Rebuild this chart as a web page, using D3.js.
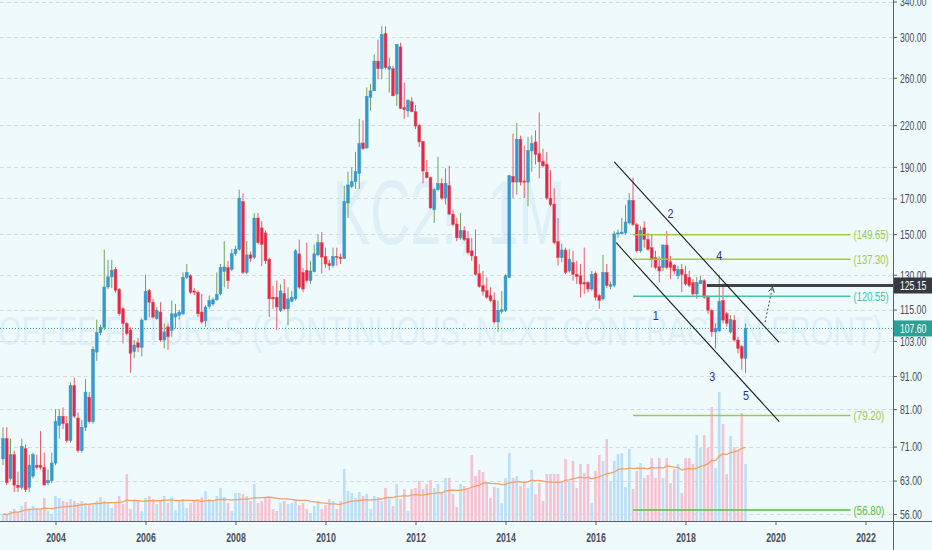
<!DOCTYPE html>
<html>
<head>
<meta charset="utf-8">
<script src="https://cdn.jsdelivr.net/npm/d3@7"></script>
<style>
  body { margin: 0; background: #eefafc; }
  svg { display: block; }
</style>
</head>
<body>
<svg id="chart"></svg>
<script>
// ---------------------- data (monthly, Nov 2002 .. May 2019) ----------------------
const firstMonth = -14; // months from Jan 2004 -> Nov 2002

const opens = [
  68, 73,
  63.5, 69, 62, 61.5, 70.5, 61.5, 64, 66.5, 66.5, 66, 62.5, 63,
  67, 76.5, 79, 77, 72.5, 88, 78.5, 70, 76, 84.5, 77.5, 99,
  106, 108, 124.5, 129, 132.5, 123.5, 115.3, 109.5, 107, 99.2, 102.3, 100.7,
  110.9, 123, 118, 111.4, 114, 103.3, 108.2, 106.9, 112, 112.7, 113.3, 128.8,
  129.5, 122.8, 122.2, 114, 110.5, 116.3, 117.3, 119, 121.5, 131.5, 133.3, 132.5,
  140, 142.2, 168.2, 131, 139.4, 138.1, 158.7, 153.3, 150.6, 137.3, 120.1, 120.1,
  114.7, 121.7, 115.3, 118.4, 119.4, 139.9, 131, 132, 127.3, 131.4, 139.4, 145.5,
  138.6, 135.3, 134.2, 138.6, 138.3, 137.7, 167.3, 177.3, 180.4, 185.7, 206.7, 203.1,
  242.7, 248.3, 275.7, 268.4, 303.7, 267.8, 268.4, 245.5, 289.8, 234.1, 231.3, 239,
  230.7, 219.8, 207.8, 186.4, 182.9, 163.4, 175.3, 179.3, 170.2, 177.8, 160.9, 155.4,
  148, 151.9, 147.6, 141.4, 138.6, 130.5, 125.1, 122.9, 120.8, 118.9, 110.1, 114.2,
  114.7, 128.8, 183.8, 180.1, 209.3, 180.8, 180.1, 201, 207.4, 199.1, 193.8, 191.6,
  170.2, 166.7, 146, 138.1, 141.8, 131.7, 135.7, 130.2, 129.5, 126.5, 126.5, 123.6,
  130.5, 120.8, 119.4, 131, 124.7, 125.1, 150.2, 150.2, 150.6, 156, 168.9, 155,
  141.4, 153.3, 147.1, 143, 138.1, 133.8, 133.3, 144.3, 136, 134.4, 129.5, 132.5,
  130.2, 128.8, 126.5, 121.5, 126, 127.3, 120.1, 114.7, 106.3, 106.7, 118.7, 113.3,
  106.3, 110.8, 103.3, 100.9, 96.9
];
const highs = [
  76, 76,
  73, 70, 65, 73, 71.5, 69, 69.5, 69, 75, 69.5, 65.5, 69.5,
  81, 81, 81.5, 79, 89, 90.5, 80, 78, 90, 86, 101, 111,
  109, 142, 137, 137, 133.5, 124, 116, 110, 108, 103.3, 104, 111.4,
  130, 123.6, 119.4, 116, 118, 109.5, 109.5, 118.7, 117.3, 115, 131, 135,
  130.2, 124, 123, 121.5, 116.7, 120.8, 120, 131, 135, 146.3, 136.5, 142.2,
  144, 175.3, 173.2, 146.3, 141, 161.5, 161.5, 157, 152, 138, 125, 127.3,
  125.7, 128, 124.4, 122.8, 142.2, 147.1, 133, 145.5, 136.5, 144.6, 149.7, 151,
  143, 137, 143, 143, 140, 177.8, 186.8, 189.6, 200.3, 225, 223.7, 251.3,
  254.2, 282.2, 297.3, 311.6, 311.6, 279, 271, 293, 294, 255.6, 241.2, 242.7,
  236, 221, 208, 194.6, 183.5, 176.2, 196.8, 182.5, 189, 190.7, 163.4, 158.7,
  161.5, 154.2, 151.5, 148, 152.4, 134.9, 131.7, 128.8, 124.4, 122.2, 118.7, 122.8,
  130.2, 184.5, 213.5, 221.8, 212, 204.8, 211, 212.2, 216, 230.2, 202.6, 200.3,
  187.9, 176.2, 158.7, 145, 143, 142.2, 141.4, 136.5, 135, 143, 127, 131.7,
  131.5, 121.5, 139.4, 135, 127, 151.5, 152.4, 158.7, 166.3, 173.2, 183, 156,
  154.2, 156.9, 150.6, 149.9, 141.4, 138.6, 144.6, 151.5, 138.9, 135, 134.1, 135,
  134.1, 131.7, 128, 128.8, 129.5, 128, 120.8, 115.3, 109.5, 130, 126, 114,
  112.7, 112.7, 104.5, 101.5, 109.5
];
const lows = [
  66.5, 62,
  63, 60.5, 60.5, 61, 60.5, 60.5, 63.5, 65.5, 65.5, 62, 62, 62.5,
  66.5, 73, 75.5, 72, 72, 78.5, 69.5, 69.5, 75, 77, 77, 96,
  105, 107, 123.5, 124, 122, 112.5, 102, 105, 92, 97, 99, 97.5,
  110.7, 112, 111.4, 111, 102.7, 100.3, 99.8, 104.5, 107.6, 111, 112.7, 128,
  121.5, 121, 112, 109.5, 108.2, 115.3, 116.5, 118.7, 120.8, 124.4, 123.6, 131.7,
  139, 141.4, 130.2, 130.2, 136, 137.3, 144.6, 134.1, 135, 112, 115.3, 106.9,
  114, 114.7, 108.9, 118, 118.7, 123.6, 122.2, 126.5, 125.8, 131, 138.7, 130.6,
  133.3, 132, 133.3, 134.2, 135, 137.3, 158.7, 176.2, 175.8, 175.8, 201.5, 202.6,
  231.6, 248, 258.6, 258.6, 267.8, 246.8, 243.5, 235.6, 232.9, 225, 226.3, 230.2,
  217, 203.8, 179.3, 182.5, 164, 156, 174.3, 169.2, 166.4, 160.5, 154.2, 146.3,
  147.1, 146.3, 139.6, 136.5, 129.5, 124.1, 120.8, 119.4, 118, 109.5, 106.3, 113.3,
  114, 128.5, 170.2, 172.2, 178, 170.2, 165.4, 186.8, 191.6, 182.5, 189.6, 169.2,
  165.4, 144.6, 134.2, 136, 130.2, 131, 127.3, 125.8, 120, 121.5, 122.2, 122.9,
  118.7, 115.3, 118.7, 124.1, 123.5, 124.4, 148, 149.7, 149.7, 155, 154.2, 140.5,
  140.5, 143, 141.4, 133.3, 132.5, 126.5, 131.7, 132.5, 128, 130.2, 128, 122.2,
  125.1, 124.4, 120.8, 119.4, 125.8, 119.4, 113.3, 104.5, 100.3, 106.3, 109.5, 108.2,
  105.7, 102.7, 98.6, 93.1, 92
];
const closes = [
  73, 62.5,
  69, 62, 61.5, 71, 61, 66.5, 69, 66, 66, 62, 63, 67,
  77.5, 79, 77, 72.5, 88, 79, 70, 76, 86, 77.5, 100, 106,
  108, 124.5, 129, 132, 123, 113.3, 109.5, 105.7, 98.6, 101.5, 100.7, 110.8,
  122.5, 118, 112, 114.7, 103.3, 106.3, 104.5, 113.3, 113.3, 114, 128.8, 131,
  122.2, 122.2, 113.3, 110.1, 116, 118.7, 119, 121.2, 133.3, 133.6, 127.3, 140,
  142.2, 170.2, 131, 139.4, 137.7, 158.7, 145.5, 144.6, 136.5, 119.4, 119.4, 116,
  122.8, 115.3, 119.4, 120.1, 141.4, 124.4, 123.6, 127.3, 131.7, 139.9, 145.5, 138.3,
  135, 134.2, 138.6, 138.1, 137.5, 168.3, 178.3, 180.4, 186.8, 206.2, 202.6, 243.5,
  248.3, 275.7, 268.4, 302.6, 269.4, 270.3, 244, 292.2, 233.5, 232.3, 239.8, 230.7,
  219.3, 207.4, 187.2, 182.9, 164.4, 175.3, 179.3, 170.2, 179.3, 160.9, 155.1, 148,
  151.9, 147.1, 140.5, 138.9, 130.2, 124.7, 122.6, 120.1, 118.7, 110.1, 114.7, 114.9,
  129.5, 184.2, 180.1, 209.3, 180.1, 180, 201.1, 206.2, 198.4, 193.4, 190.7, 170.2,
  166.4, 145.5, 138.1, 141.8, 131, 137.3, 130.2, 129.1, 125.8, 125.8, 123.6, 130.2,
  120.1, 118.7, 131, 125.1, 125.5, 150.1, 150.6, 151, 156.5, 168.9, 155, 141.4,
  151.9, 147.1, 142.2, 137.3, 133.3, 131.7, 144.3, 133.3, 133.3, 131.7, 132.5, 130.2,
  125.8, 125.1, 121.5, 126.5, 127.3, 120.1, 114.7, 106.3, 107.6, 118.3, 110.8, 109.5,
  111, 103.3, 100.3, 96.9, 107.6
];
// volume, thousands of contracts (approx.)
const volumes = [
  7, 6,
  10, 12, 9, 15, 19, 13, 15, 13, 12, 23, 10, 7,
  25, 23, 20, 19, 22, 20, 18, 20, 18, 17, 16, 20,
  24, 20, 19, 13, 18, 25, 17, 47, 12, 22, 20, 10,
  23, 25, 22, 17, 20, 25, 18, 24, 11, 20, 22, 13,
  18, 20, 22, 24, 30, 22, 20, 25, 33, 24, 18, 10,
  28, 28, 27, 25, 20, 37, 18, 20, 23, 25, 12, 10,
  18, 20, 17, 18, 22, 16, 18, 12, 8, 15, 20, 12,
  16, 22, 20, 12, 20, 52, 30, 28, 23, 29, 25, 27,
  12, 25, 24, 20, 33, 22, 15, 37, 22, 32, 10, 32,
  33, 40, 32, 37, 41, 33, 37, 28, 43, 43, 27, 14,
  37, 35, 33, 66, 45, 51, 49, 38, 23, 34, 33, 18,
  43, 68, 43, 45, 35, 38, 33, 51, 27, 38, 20, 47,
  47, 47, 47, 40, 62, 40, 60, 33, 57, 48, 57, 18,
  50, 66, 60, 82, 40, 60, 67, 68, 34, 72, 32, 50,
  58, 43, 46, 63, 43, 63, 43, 63, 38, 52, 57, 28,
  63, 63, 57, 86, 73, 86, 73, 114, 53, 129, 97, 47,
  85, 74, 70, 108, 57
];

const yearTicks = [2004, 2006, 2008, 2010, 2012, 2014, 2016, 2018, 2020, 2022];
const priceTicks = [56, 63, 71, 81, 91, 103, 115, 130, 150, 170, 190, 220, 260, 300, 340];

// drawings (month offset from Jan 2004, price)
const fibLevels = [149.65, 137.30, 120.55, 79.20, 56.80];
const fibFrom = 154, fibTo = 212;
const resistance = 125.15, resistanceFrom = 173.7;
const lastPrice = 107.60;
const channelUpper = [[149.0, 193.4], [192.9, 102.5]];
const channelLower = [[149.5, 145.5], [193.0, 77.5]];
const arrowPts = [[189.2, 110.0], [191.2, 124.5]];
const waveLabels = ["1", "2", "3", "4", "5"];
const waveMonths = [160.1, 164.0, 175.1, 177.0, 184.1];
const wavePrices = [112.8, 161.5, 90.8, 139.3, 85.1];

// ---------------------- setup ----------------------
const width = 932, height = 550;
const plotW = 893, plotH = 521;
const font = '"Liberation Sans", Arial, sans-serif';
const upColor = "#349ccb", downColor = "#e0245e";
const fibColors = ["#a3c93e", "#a3c93e", "#4fc0a2", "#a3c93e", "#55bf3f"];

// the reference uses a narrow face: squeeze each text horizontally
function narrow(sel, perChar) {
  sel.each(function () {
    const t = d3.select(this);
    const natural = this.getComputedTextLength();
    if (!natural) return;
    const sx = (t.text().length * perChar) / natural;
    const x0 = +t.attr("x") || 0;
    t.attr("x", x0 / sx).attr("transform", "scale(" + sx + ",1)");
  });
}

const svg = d3.select("#chart")
  .attr("width", width)
  .attr("height", height);

svg.append("rect").attr("width", width).attr("height", height).attr("fill", "#eefafc");

const x = d3.scaleLinear().domain([-14.8, 223.33]).range([0, plotW]);
const y = d3.scaleLog().domain([54.64, 341.8]).range([plotH, 0]);
const yVol = d3.scaleLinear().domain([0, 100]).range([plotH, plotH - 100]);

const bars = opens.map((o, i) => ({
  m: firstMonth + i, o: o, h: highs[i], l: lows[i], c: closes[i], v: volumes[i]
}));

svg.append("clipPath").attr("id", "pane")
  .append("rect").attr("width", plotW).attr("height", plotH);
const pane = svg.append("g").attr("clip-path", "url(#pane)");

// watermark
pane.append("text")
  .attr("x", 449).attr("y", 244)
  .attr("text-anchor", "middle")
  .attr("font-family", font)
  .attr("font-size", 90)
  .attr("textLength", 232).attr("lengthAdjust", "spacingAndGlyphs")
  .attr("fill", "#deeff8")
  .text("KC2!, 1M");
pane.append("text")
  .attr("x", 430).attr("y", 345)
  .attr("text-anchor", "middle")
  .attr("font-family", font)
  .attr("font-size", 40)
  .attr("textLength", 905).attr("lengthAdjust", "spacingAndGlyphs")
  .attr("fill", "#deeff8")
  .text("COFFEE FUTURES (CONTINUOUS: NEXT CONTRACT IN FRONT)");

// horizontal grid
pane.append("g").selectAll("line")
  .data(priceTicks)
  .join("line")
  .attr("x1", 0).attr("x2", plotW)
  .attr("y1", d => Math.round(y(d)) + 0.5).attr("y2", d => Math.round(y(d)) + 0.5)
  .attr("stroke", "#d3dcdf")
  .attr("stroke-dasharray", "4,3");

// volume
pane.append("g").selectAll("rect")
  .data(bars)
  .join("rect")
  .attr("x", d => x(d.m) - 1.3)
  .attr("width", 2.6)
  .attr("y", d => yVol(d.v))
  .attr("height", d => plotH - yVol(d.v))
  .attr("fill", d => d.c >= d.o ? "#bcdff6" : "#f5c2d2");

// volume moving average (20)
const volMA = bars.map((d, i) => d3.mean(bars.slice(Math.max(0, i - 19), i + 1), b => b.v));
pane.append("path")
  .datum(bars)
  .attr("fill", "none")
  .attr("stroke", "#f6a066")
  .attr("stroke-width", 1.3)
  .attr("d", d3.line().x(d => x(d.m)).y((d, i) => yVol(volMA[i])));

// current price line
pane.append("line")
  .attr("x1", 0).attr("x2", plotW)
  .attr("y1", y(lastPrice)).attr("y2", y(lastPrice))
  .attr("stroke", "#2a9d95")
  .attr("stroke-dasharray", "1,2");

// candles: wicks
pane.append("g").selectAll("line")
  .data(bars)
  .join("line")
  .attr("x1", d => x(d.m)).attr("x2", d => x(d.m))
  .attr("y1", d => y(d.h)).attr("y2", d => y(d.l))
  .attr("stroke", d => d.c >= d.o ? "#76a05e" : "#ee5a6c")
  .attr("stroke-width", 1);

// candles: bodies
pane.append("g").selectAll("rect")
  .data(bars)
  .join("rect")
  .attr("x", d => x(d.m) - 1.4)
  .attr("width", 2.8)
  .attr("y", d => y(Math.max(d.o, d.c)))
  .attr("height", d => Math.max(1, y(Math.min(d.o, d.c)) - y(Math.max(d.o, d.c))))
  .attr("fill", d => d.c >= d.o ? upColor : downColor)
  .attr("stroke", d => d.c >= d.o ? "#3592cf" : "#ea5430")
  .attr("stroke-width", 0.5);

// fib levels
const fib = pane.append("g");
fib.selectAll("line")
  .data(fibLevels)
  .join("line")
  .attr("x1", x(fibFrom)).attr("x2", x(fibTo))
  .attr("y1", d => y(d)).attr("y2", d => y(d))
  .attr("stroke", (d, i) => fibColors[i])
  .attr("stroke-width", 1.5);
fib.selectAll("text")
  .data(fibLevels)
  .join("text")
  .attr("x", x(fibTo) + 3)
  .attr("y", d => y(d))
  .attr("dy", "0.35em")
  .attr("font-family", font)
  .attr("font-size", 13)
  .attr("fill", (d, i) => fibColors[i])
  .text(d => "(" + d3.format(".2f")(d) + ")")
  .call(narrow, 4.4);

// resistance line
pane.append("line")
  .attr("x1", x(resistanceFrom)).attr("x2", plotW)
  .attr("y1", y(resistance)).attr("y2", y(resistance))
  .attr("stroke", "#3f4244")
  .attr("stroke-width", 3);

// channel
[channelUpper, channelLower].forEach(pts => {
  pane.append("line")
    .attr("x1", x(pts[0][0])).attr("y1", y(pts[0][1]))
    .attr("x2", x(pts[1][0])).attr("y2", y(pts[1][1]))
    .attr("stroke", "#1b1b1b")
    .attr("stroke-width", 1.1);
});

// dotted arrow
const ax1 = x(arrowPts[0][0]), ay1 = y(arrowPts[0][1]);
const ax2 = x(arrowPts[1][0]), ay2 = y(arrowPts[1][1]);
pane.append("line")
  .attr("x1", ax1).attr("y1", ay1).attr("x2", ax2).attr("y2", ay2)
  .attr("stroke", "#444").attr("stroke-dasharray", "2,2");
const ang = Math.atan2(ay2 - ay1, ax2 - ax1);
[-0.5, 0.5].forEach(da => {
  pane.append("line")
    .attr("x1", ax2).attr("y1", ay2)
    .attr("x2", ax2 - 6 * Math.cos(ang + da)).attr("y2", ay2 - 6 * Math.sin(ang + da))
    .attr("stroke", "#444");
});

// wave labels
pane.append("g").selectAll("text")
  .data(waveLabels)
  .join("text")
  .attr("x", (d, i) => x(waveMonths[i]))
  .attr("y", (d, i) => y(wavePrices[i]))
  .attr("dy", "0.35em")
  .attr("text-anchor", "middle")
  .attr("font-family", font)
  .attr("font-size", 13)
  .attr("fill", "#2c309c")
  .text(d => d)
  .call(narrow, 6);

// ---------------------- axes ----------------------
const yAxis = svg.append("g")
  .attr("transform", "translate(" + plotW + ",0)")
  .call(d3.axisRight(y).tickValues(priceTicks).tickFormat(d3.format(".2f")).tickSize(4).tickSizeOuter(0));
yAxis.select(".domain").remove();
yAxis.selectAll("line").attr("stroke", "#5b5f63");
yAxis.selectAll("text")
  .attr("font-family", font).attr("font-size", 13.5).attr("fill", "#4a4e55")
  .call(narrow, 4.4);

const xAxis = svg.append("g")
  .attr("transform", "translate(0," + plotH + ")")
  .call(d3.axisBottom(x)
    .tickValues(yearTicks.map(yr => (yr - 2004) * 12))
    .tickFormat(d => 2004 + d / 12)
    .tickSize(4).tickSizeOuter(0));
xAxis.select(".domain").remove();
xAxis.selectAll("line").attr("stroke", "#5b5f63");
xAxis.selectAll("text")
  .attr("font-family", font).attr("font-size", 13)
  .attr("font-weight", "bold").attr("fill", "#4a4e55").attr("dy", "1.05em")
  .call(narrow, 4.9);

svg.append("line").attr("x1", plotW + 0.5).attr("x2", plotW + 0.5).attr("y1", 0).attr("y2", height)
  .attr("stroke", "#5b5f63");
svg.append("line").attr("x1", 0).attr("x2", width).attr("y1", plotH + 0.5).attr("y2", plotH + 0.5)
  .attr("stroke", "#5b5f63");

// price tags
function priceTag(price, bg) {
  const g = svg.append("g").attr("transform", "translate(" + (plotW + 1) + "," + y(price) + ")");
  g.append("rect").attr("x", 0).attr("y", -8).attr("width", width - plotW).attr("height", 16).attr("fill", bg);
  g.append("text").attr("x", 6).attr("dy", "0.36em")
    .attr("font-family", font).attr("font-size", 13.5).attr("fill", "#ffffff")
    .text(d3.format(".2f")(price))
    .call(narrow, 4.4);
}
priceTag(resistance, "#363a40");
priceTag(lastPrice, "#26a397");
</script>
</body>
</html>
